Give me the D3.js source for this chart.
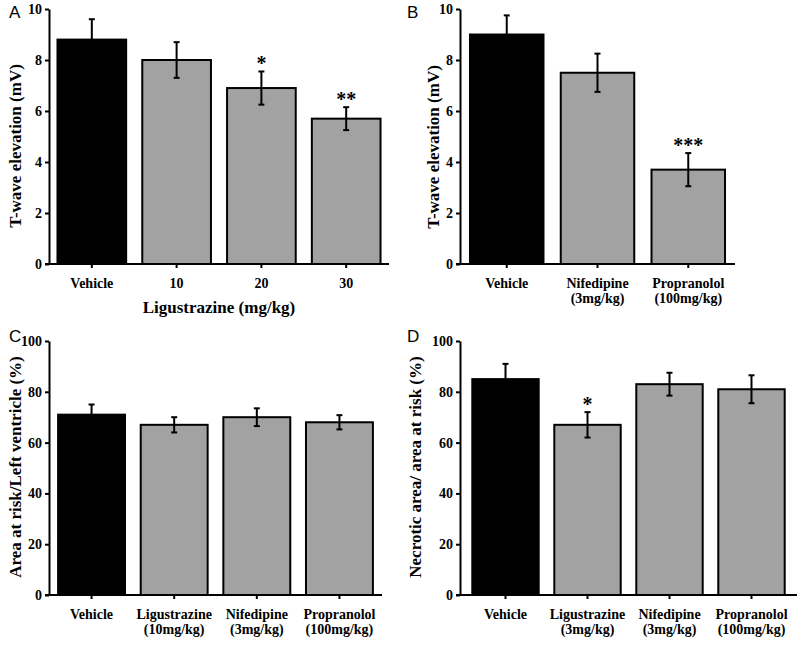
<!DOCTYPE html>
<html>
<head>
<meta charset="utf-8">
<script src="https://cdn.jsdelivr.net/npm/d3@7"></script>
<style>
  html, body { margin: 0; padding: 0; background: #fff; }
  svg { display: block; }
</style>
</head>
<body>
<svg id="chart" width="800" height="645"></svg>
<script>
// ---- Data ----
const catsA = [["Vehicle"], ["10"], ["20"], ["30"]];
const valsA = [8.8, 8.0, 6.9, 5.7];
const errA  = [0.8, 0.7, 0.65, 0.45];
const sigA  = ["", "", "*", "**"];

const catsB = [["Vehicle"], ["Nifedipine", "(3mg/kg)"], ["Propranolol", "(100mg/kg)"]];
const valsB = [9.0, 7.5, 3.7];
const errB  = [0.75, 0.75, 0.65];
const sigB  = ["", "", "***"];

const catsC = [["Vehicle"], ["Ligustrazine", "(10mg/kg)"], ["Nifedipine", "(3mg/kg)"], ["Propranolol", "(100mg/kg)"]];
const valsC = [71, 67, 70, 68];
const errC  = [4, 3, 3.5, 2.8];
const sigC  = ["", "", "", ""];

const catsD = [["Vehicle"], ["Ligustrazine", "(3mg/kg)"], ["Nifedipine", "(3mg/kg)"], ["Propranolol", "(100mg/kg)"]];
const valsD = [85, 67, 83, 81];
const errD  = [6, 5, 4.5, 5.5];
const sigD  = ["", "*", "", ""];

const ticksAB = [0, 2, 4, 6, 8, 10];
const ticksCD = [0, 20, 40, 60, 80, 100];

// ---- Layout ----
const panels = [
  { label: "A", cats: catsA, vals: valsA, errs: errA, sig: sigA, ticks: ticksAB, ymax: 10,
    x0: 49, x1: 389, yTop: 9, yBot: 264, po: 0.1,
    ytitle: "T-wave elevation (mV)", ytx: 15, yty: 146,
    xtitle: "Ligustrazine (mg/kg)", lx: 9, ly: 18 },
  { label: "B", cats: catsB, vals: valsB, errs: errB, sig: sigB, ticks: ticksAB, ymax: 10,
    x0: 460, x1: 735, yTop: 9, yBot: 264, po: 0.11,
    ytitle: "T-wave elevation (mV)", ytx: 433, yty: 147,
    xtitle: null, lx: 407, ly: 18 },
  { label: "C", cats: catsC, vals: valsC, errs: errC, sig: sigC, ticks: ticksCD, ymax: 100,
    x0: 49, x1: 382, yTop: 341, yBot: 595, po: 0.11,
    ytitle: "Area at risk/Left ventricle (%)", ytx: 15, yty: 467,
    xtitle: null, lx: 9, ly: 342 },
  { label: "D", cats: catsD, vals: valsD, errs: errD, sig: sigD, ticks: ticksCD, ymax: 100,
    x0: 460, x1: 797, yTop: 341, yBot: 595, po: 0.15,
    ytitle: "Necrotic area/ area at risk (%)", ytx: 415, yty: 467,
    xtitle: null, lx: 407, ly: 342 }
];

const svg = d3.select("#chart");
const fontStack = '"Liberation Serif", "Times New Roman", serif';

panels.forEach(p => {
  const g = svg.append("g");
  const names = p.cats.map(c => c.join(" "));
  const x = d3.scaleBand().domain(names).range([p.x0, p.x1]).paddingInner(0.19).paddingOuter(p.po);
  const y = d3.scaleLinear().domain([0, p.ymax]).range([p.yBot, p.yTop]);

  // bars
  g.selectAll("rect.bar").data(p.vals).join("rect")
    .attr("class", "bar")
    .attr("x", (d, i) => x(names[i]))
    .attr("width", x.bandwidth())
    .attr("y", d => y(d))
    .attr("height", d => y(0) - y(d))
    .attr("fill", (d, i) => i === 0 ? "#000" : "#a2a2a2")
    .attr("stroke", "#000")
    .attr("stroke-width", 2);

  // error bars
  const eg = g.selectAll("g.err").data(p.vals).join("g").attr("class", "err")
    .attr("stroke", "#000").attr("stroke-width", 2);
  const cx = i => x(names[i]) + x.bandwidth() / 2;
  eg.append("line")
    .attr("x1", (d, i) => cx(i)).attr("x2", (d, i) => cx(i))
    .attr("y1", (d, i) => y(d - p.errs[i]))
    .attr("y2", (d, i) => y(d + p.errs[i]));
  eg.append("line")
    .attr("x1", (d, i) => cx(i) - 3).attr("x2", (d, i) => cx(i) + 3)
    .attr("y1", (d, i) => y(d + p.errs[i]))
    .attr("y2", (d, i) => y(d + p.errs[i]));
  eg.append("line")
    .attr("x1", (d, i) => cx(i) - 3).attr("x2", (d, i) => cx(i) + 3)
    .attr("y1", (d, i) => y(d - p.errs[i]))
    .attr("y2", (d, i) => y(d - p.errs[i]));

  // significance
  g.selectAll("text.sig").data(p.vals).join("text")
    .attr("class", "sig")
    .attr("x", (d, i) => cx(i))
    .attr("y", (d, i) => y(d + p.errs[i]) - 1)
    .attr("text-anchor", "middle")
    .attr("font-family", fontStack)
    .attr("font-weight", "bold")
    .attr("font-size", 20)
    .text((d, i) => p.sig[i]);

  // y axis
  const ya = g.append("g").attr("transform", `translate(${p.x0},0)`)
    .call(d3.axisLeft(y).tickValues(p.ticks).tickSize(4).tickSizeOuter(0).tickPadding(3));
  ya.select(".domain").attr("stroke-width", 2);
  ya.selectAll(".tick line").attr("stroke-width", 2);
  ya.selectAll(".tick text").attr("font-family", fontStack).attr("font-weight", "bold")
    .attr("font-size", 14).attr("fill", "#000");

  // x axis
  const xa = g.append("g").attr("transform", `translate(0,${p.yBot})`)
    .call(d3.axisBottom(x).tickSize(4).tickSizeOuter(0).tickFormat(""));
  xa.select(".domain").attr("stroke-width", 2).attr("d", `M${p.x0 - 4},0H${p.x1}`);
  xa.selectAll(".tick line").attr("stroke-width", 2);
  xa.selectAll(".tick").each(function(d, i) {
    const t = d3.select(this).append("text")
      .attr("fill", "#000")
      .attr("font-family", fontStack).attr("font-weight", "bold").attr("font-size", 14)
      .attr("text-anchor", "middle")
      .attr("y", 24);
    p.cats[i].forEach((s, k) => {
      t.append("tspan").attr("x", 0).attr("y", 24 + k * 15).text(s);
    });
  });

  // y title
  g.append("text")
    .attr("transform", `translate(${p.ytx},${p.yty}) rotate(-90)`)
    .attr("text-anchor", "middle").attr("dominant-baseline", "central")
    .attr("font-family", fontStack).attr("font-weight", "bold").attr("font-size", 17)
    .text(p.ytitle);

  // x title
  if (p.xtitle) {
    g.append("text")
      .attr("x", (p.x0 + p.x1) / 2).attr("y", p.yBot + 49)
      .attr("text-anchor", "middle")
      .attr("font-family", fontStack).attr("font-weight", "bold").attr("font-size", 17)
      .text(p.xtitle);
  }

  // panel label
  g.append("text")
    .attr("x", p.lx).attr("y", p.ly)
    .attr("font-family", "'Liberation Sans', Arial, sans-serif").attr("font-size", 17)
    .text(p.label);
});
</script>
</body>
</html>
